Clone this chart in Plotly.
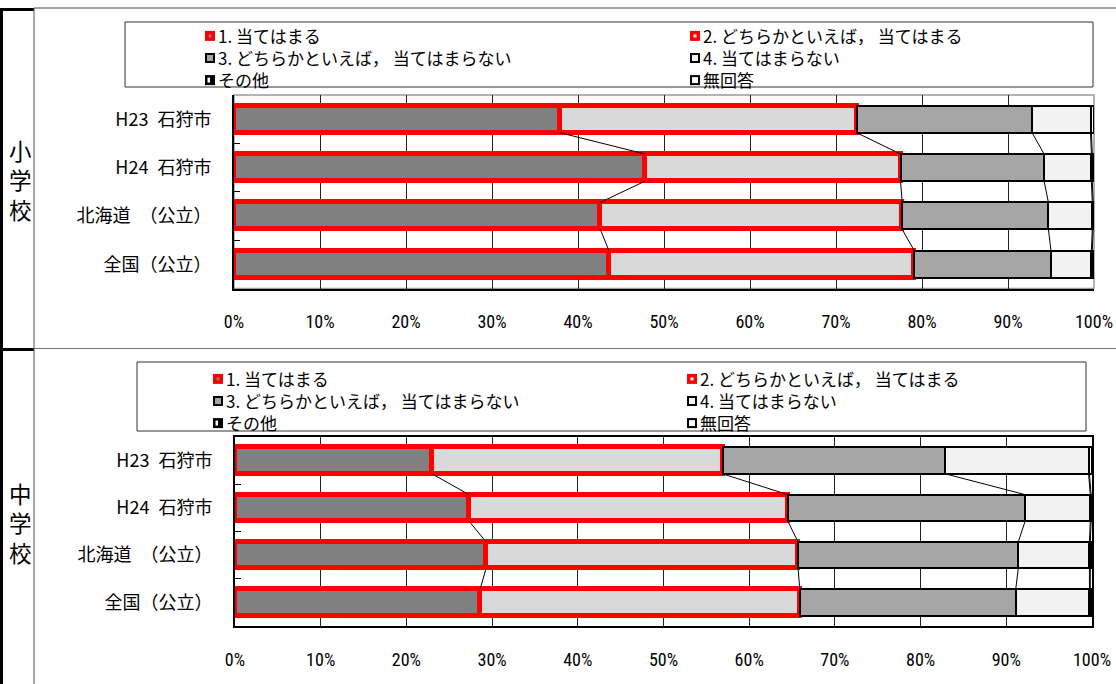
import numpy as np
import plotly.graph_objects as go

# ---- data -------------------------------------------------------------
categories = ["H23\u2002石狩市", "H24\u2002石狩市", "北海道\u2002（公立）", "全国（公立）"]
series_names = ["1. 当てはまる", "2. どちらかといえば， 当てはまる",
                "3. どちらかといえば， 当てはまらない", "4. 当てはまらない",
                "その他", "無回答"]

# 小学校 (%), rows follow the categories
elem_s1 = [37.9, 47.8, 42.6, 43.6]
elem_s2 = [34.5, 29.7, 35.1, 35.5]
elem_s3 = [20.4, 16.7, 17.0, 15.9]
elem_s4 = [6.8, 5.5, 5.1, 4.7]
elem_other = [0.1, 0.1, 0.1, 0.1]
elem_none = [0.3, 0.2, 0.1, 0.2]

# 中学校 (%)
jr_s1 = [23.0, 27.3, 29.3, 28.6]
jr_s2 = [33.9, 37.2, 36.4, 37.3]
jr_s3 = [26.0, 27.7, 25.7, 25.2]
jr_s4 = [16.7, 7.6, 8.3, 8.6]
jr_other = [0.1, 0.1, 0.1, 0.1]
jr_none = [0.3, 0.1, 0.2, 0.2]

x_ticks = list(range(0, 101, 10))
x_ticktext = [f"{v}%" for v in x_ticks]

# ---- styling ----------------------------------------------------------
W, H = 1116, 684
FILLS = ["#808080", "#d9d9d9", "#a6a6a6", "#f2f2f2", "#000000", "#ffffff"]
EDGES = ["#ff0000", "#ff0000", "#000000", "#000000", "#000000", "#000000"]
EDGE_W = [5, 5, 2.2, 2.2, 2.2, 2.2]
BAR_W = 0.56
JP = "Noto Sans CJK JP"
NARROW = "Roboto Condensed, Liberation Sans Narrow, Noto Sans CJK JP, sans-serif"
LEG_SIZE = 17
LEG_PITCH = LEG_SIZE * 1.3  # plotly's line spacing for multi-line annotations


def px(x):
    return x / W


def py(y):
    return 1 - y / H


fig = go.Figure()
ypos = list(range(len(categories)))

panels = [
    ("x", "y", [elem_s1, elem_s2, elem_s3, elem_s4, elem_other, elem_none]),
    ("x2", "y2", [jr_s1, jr_s2, jr_s3, jr_s4, jr_other, jr_none]),
]

for xa, ya, segs in panels:
    for name, vals, fc, ec, ew in zip(series_names, segs, FILLS, EDGES, EDGE_W):
        fig.add_trace(go.Bar(
            x=vals, y=ypos, orientation="h", width=BAR_W, name=name,
            marker=dict(color=fc, line=dict(color=ec, width=ew)),
            xaxis=xa, yaxis=ya, showlegend=False, hoverinfo="skip",
        ))
    # series lines joining the segment ends of neighbouring bars
    cum = np.cumsum(np.array(segs).T, axis=1)
    lx, ly = [], []
    for k in range(cum.shape[1] - 1):
        for i in range(len(categories) - 1):
            lx += [cum[i, k], cum[i + 1, k], None]
            ly += [i + BAR_W / 2, i + 1 - BAR_W / 2, None]
    fig.add_trace(go.Scatter(
        x=lx, y=ly, mode="lines", line=dict(color="black", width=1),
        xaxis=xa, yaxis=ya, showlegend=False, hoverinfo="skip",
    ))

xaxis_common = dict(
    range=[0, 100], tickmode="array", tickvals=x_ticks, ticktext=x_ticktext,
    showgrid=True, gridcolor="#222222", gridwidth=1, zeroline=False,
    ticks="", tickfont=dict(family=NARROW, size=18, color="black"),
    ticklabelstandoff=16, showline=True, linecolor="black", linewidth=2,
    automargin=False, fixedrange=True,
)
yaxis_common = dict(
    range=[3.5, -0.5], tickmode="array", tickvals=ypos, ticktext=categories,
    ticks="", showgrid=False, zeroline=False,
    tickfont=dict(family=JP, size=18, color="black"),
    ticklabelstandoff=17, showline=True, linecolor="black", linewidth=2,
    minor=dict(tickmode="array", tickvals=[0.5, 1.5, 2.5], ticks="inside",
               ticklen=6, tickcolor="black", tickwidth=1, showgrid=False),
    automargin=False, fixedrange=True,
)

fig.update_layout(
    width=W, height=H, margin=dict(l=0, r=0, t=0, b=0, pad=0),
    paper_bgcolor="white", plot_bgcolor="white",
    barmode="stack", bargap=0,
    xaxis=dict(domain=[px(234), px(1094)], anchor="y", **xaxis_common),
    yaxis=dict(domain=[py(288.5), py(95)], anchor="x", **yaxis_common),
    xaxis2=dict(domain=[px(235), px(1092)], anchor="y2", mirror=True, **xaxis_common),
    yaxis2=dict(domain=[py(626), py(437)], anchor="x2", mirror=True, **yaxis_common),
    font=dict(family=JP, color="black"),
)

shapes = []
# grey frame on the upper plot area (top and right edges)
shapes.append(dict(type="rect", xref="x domain", yref="y domain",
                   x0=0, x1=1, y0=0, y1=1, line=dict(color="#9a9a9a", width=1.5),
                   layer="below"))

# outer table frame
def seg(x0, y0, x1, y1, w, c="black"):
    shapes.append(dict(type="line", xref="paper", yref="paper",
                       x0=px(x0), y0=py(y0), x1=px(x1), y1=py(y1),
                       line=dict(color=c, width=w)))

seg(1.5, 8, 1.5, 684, 3)
seg(0, 9.5, 34, 9.5, 3)
seg(0, 349.5, 34, 349.5, 3)
seg(34, 8, 34, 684, 1, "#555555")
seg(34, 8, 1116, 8, 1, "#444444")
seg(34, 348.5, 1116, 348.5, 1, "#777777")

# legend boxes
for (x0, y0, x1, y1) in [(125, 22, 1093, 87), (137, 362, 1086, 431)]:
    shapes.append(dict(type="rect", xref="paper", yref="paper",
                       x0=px(x0), y0=py(y0), x1=px(x1), y1=py(y1),
                       line=dict(color="#333333", width=1), fillcolor="rgba(0,0,0,0)"))

annotations = []

# legend keys: (outer colour, inner colour)
key_styles = [("#ff0000", "#808080"), ("#ff0000", "#ffffff"),
              ("#000000", "#a6a6a6"), ("#000000", "#f2f2f2"),
              ("#000000", "#ffffff"), ("#000000", "#ffffff")]

# key column x positions and the centre of the middle text row
legend_layouts = [
    dict(cols=[205, 690], mid=57),
    dict(cols=[213, 687], mid=400),
]

for lay in legend_layouts:
    for col in range(2):
        kx = lay["cols"][col]
        names = series_names[col::2]
        for row, name in enumerate(names):
            idx = series_names.index(name)
            ky = lay["mid"] + (row - 1) * LEG_PITCH - 1
            outer, inner = key_styles[idx]
            shapes.append(dict(type="rect", xref="paper", yref="paper",
                               x0=px(kx), x1=px(kx + 10), y0=py(ky - 3), y1=py(ky + 7),
                               fillcolor=outer, line=dict(width=0)))
            if name == "その他":
                ix0, ix1, iy0, iy1 = kx + 2.5, kx + 5, ky - 0.5, ky + 4.5
            elif outer == "#ff0000":
                ix0, ix1, iy0, iy1 = kx + 3.5, kx + 6.5, ky + 0.5, ky + 3.5
            else:
                ix0, ix1, iy0, iy1 = kx + 2, kx + 8, ky - 1, ky + 5
            shapes.append(dict(type="rect", xref="paper", yref="paper",
                               x0=px(ix0), x1=px(ix1), y0=py(iy0), y1=py(iy1),
                               fillcolor=inner, line=dict(width=0)))
        annotations.append(dict(
            xref="paper", yref="paper", x=px(kx + 11), y=py(lay["mid"]),
            xanchor="left", yanchor="middle", align="left", showarrow=False,
            text="<br>".join(names), font=dict(family=JP, size=LEG_SIZE, color="black"),
        ))

# school-level row labels, written top to bottom
for word, yc in [("小学校", 180), ("中学校", 522)]:
    annotations.append(dict(
        xref="paper", yref="paper", x=px(20), y=py(yc),
        xanchor="center", yanchor="middle", showarrow=False,
        text="<br>".join(word), font=dict(family=JP, size=22.5, color="black"),
    ))

fig.update_layout(shapes=shapes, annotations=annotations)
fig.write_html("out.html")
